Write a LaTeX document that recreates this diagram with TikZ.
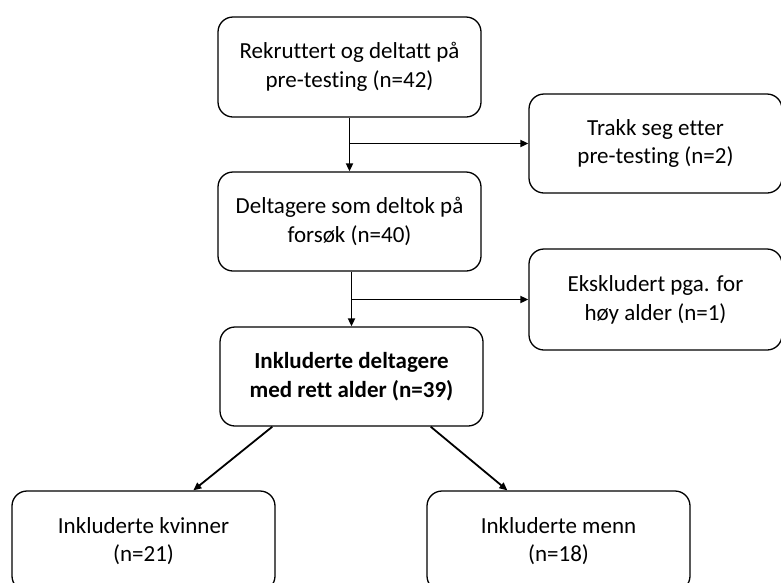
\documentclass[tikz,border=0pt]{standalone}
\usepackage{fontspec}
\setmainfont{Carlito}[Ligatures=NoCommon]
\usetikzlibrary{arrows.meta,calc}
\begin{document}
\begin{tikzpicture}[x=1pt,y=-1pt,
  box/.style={draw=black,line width=1.3pt,rounded corners=15pt,align=center,
    minimum width=263pt,minimum height=100pt,inner sep=0pt,
    font=\fontsize{23}{28.8}\selectfont},
  conn/.style={draw=black,line width=1.8pt},
  arr/.style={conn,-{Triangle[length=8pt,width=7pt]}}]
\useasboundingbox (0,0) rectangle (781,582);
\clip (0,0) rectangle (781,582);
\node[box] (b1) at (349.5,67) {Rekruttert og deltatt på\\pre-testing (n=42)};
\node[box,minimum width=253pt,minimum height=99pt] (b2) at (655.5,143.5) {Trakk seg etter\\pre-testing (n=2)};
\node[box,minimum height=99pt] (b3) at (349.5,221.5) {Deltagere som deltok på\\forsøk (n=40)};
\node[box,minimum width=253pt,minimum height=101pt] (b4) at (655.5,299.5) {Ekskludert pga. for\\høy alder (n=1)};
\node[box,minimum height=99pt,font=\fontsize{23}{28.8}\selectfont\bfseries] (b5) at (351.5,376.5) {Inkluderte deltagere\\med rett alder (n=39)};
\node[box] (b6) at (143.5,541) {Inkluderte kvinner\\(n=21)};
\node[box] (b7) at (558.5,541) {Inkluderte menn\\(n=18)};
% connectors
\coordinate (j1) at (b1.south |- b2.west);
\draw[arr] (b1.south) -- (b1.south |- b3.north);
\draw[arr] (j1) -- (b2.west);
\coordinate (j2) at ($(b3.south)+(2,0)$);
\coordinate (k2) at (j2 |- b4.west);
\draw[arr] (j2) -- (j2 |- b5.north);
\draw[arr] (k2) -- (b4.west);
\draw[arr] ($(b5.south west)+(53,0)$) -- ($(b6.north west)+(182,0)$);
\draw[arr] ($(b5.south east)+(-53,0)$) -- ($(b7.north west)+(81,0)$);
\end{tikzpicture}
\end{document}
